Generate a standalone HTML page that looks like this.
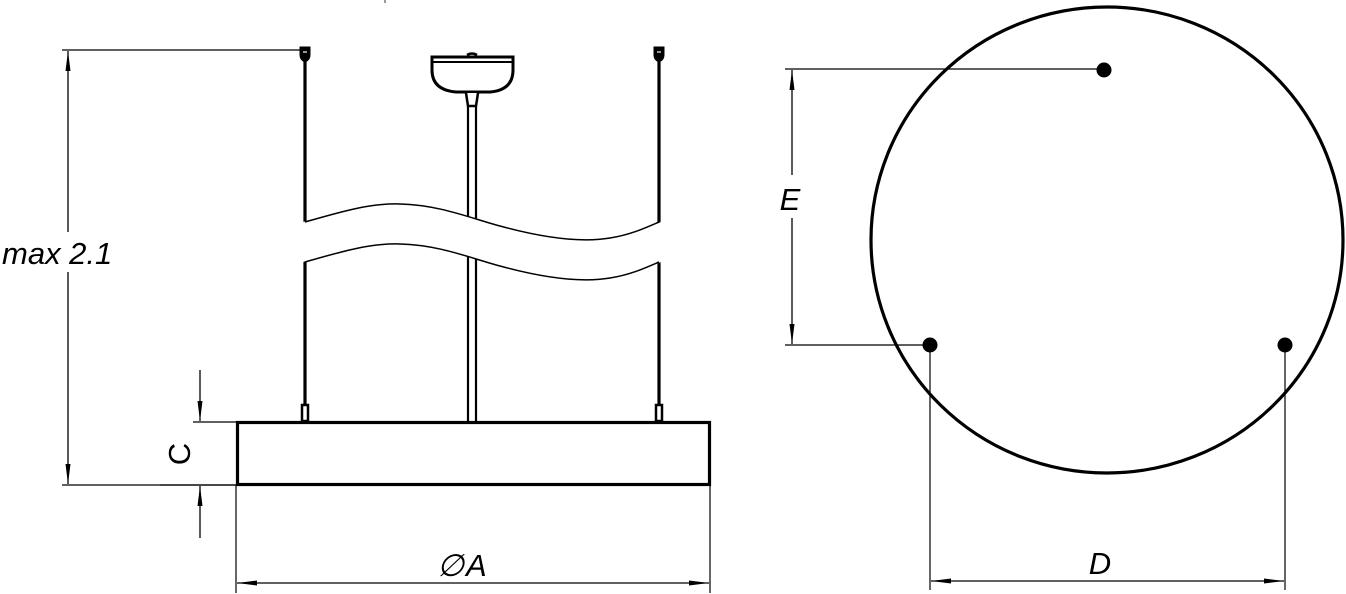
<!DOCTYPE html>
<html><head><meta charset="utf-8"><style>
html,body{margin:0;padding:0;background:#fff;}
svg{display:block;}
text{font-family:"Liberation Sans",sans-serif;font-style:italic;fill:#000;}
</style></head><body>
<svg width="1346" height="594" viewBox="0 0 1346 594" xmlns="http://www.w3.org/2000/svg">
<defs>
<marker id="ar" viewBox="0 0 20 8" refX="20" refY="4" markerWidth="20" markerHeight="8" markerUnits="userSpaceOnUse" orient="auto">
<path d="M0,1.5 L20,4 L0,6.5 Z" fill="#000"/>
</marker>
</defs>
<g stroke="#000" fill="none">
<line x1="62" y1="50" x2="302" y2="50" stroke-width="1.2"/>
<line x1="62" y1="485" x2="236" y2="485" stroke-width="1.2"/>
<line x1="68" y1="232" x2="68" y2="51" stroke-width="1.3" marker-end="url(#ar)"/>
<line x1="68" y1="272" x2="68" y2="484" stroke-width="1.3" marker-end="url(#ar)"/>

<path d="M300,47 h10 v8 q0,5 -5,7 q-5,-2 -5,-7 Z" fill="#000" stroke-width="1"/>
<path d="M654,47 h10 v8 q0,5 -5,7 q-5,-2 -5,-7 Z" fill="#000" stroke-width="1"/>
<line x1="303" y1="52" x2="307" y2="52" stroke="#fff" stroke-width="1.2"/>
<line x1="657" y1="52" x2="661" y2="52" stroke="#fff" stroke-width="1.2"/>
<line x1="305" y1="60" x2="305" y2="405" stroke-width="3.2"/>
<line x1="659" y1="60" x2="659" y2="405" stroke-width="3.2"/>
<rect x="302" y="405" width="6" height="16" fill="#fff" stroke-width="2.5"/>
<rect x="656" y="405" width="6" height="16" fill="#fff" stroke-width="2.5"/>

<path d="M432,57 H513 V70 Q513,90 490,92 H456 Q432,90 432,70 Z" stroke-width="3" fill="#fff"/>
<line x1="432" y1="62" x2="513" y2="62" stroke-width="2"/>
<path d="M467,55 Q472,52 477,55" stroke-width="2.5"/>
<path d="M466,93 L468,106 H476 L478,93" stroke-width="2.5" fill="#fff"/>
<line x1="468" y1="106" x2="468" y2="421" stroke-width="2.2"/>
<line x1="476" y1="106" x2="476" y2="421" stroke-width="2.2"/>

<!-- gap fill -->
<path d="M303,222 C340,212 370,203 400,204 C440,205 470,218 500,226 C540,237 580,243 610,238 C630,235 645,228 661,222 L661,262 C645,268 630,275 610,278 C580,283 540,277 500,266 C470,258 440,245 400,244 C370,243 340,252 303,262 Z" fill="#fff" stroke="none"/>
<path d="M305,222 C340,212 370,203 400,204 C440,205 470,218 500,226 C540,237 580,243 610,238 C630,235 645,228 659,222" stroke-width="1.5"/>
<path d="M305,262 C340,252 370,243 400,244 C440,245 470,258 500,266 C540,277 580,283 610,278 C630,275 645,268 659,262" stroke-width="1.5"/>

<rect x="237.5" y="422.5" width="472" height="62" stroke-width="3.2" fill="#fff"/>

<line x1="193" y1="422" x2="236" y2="422" stroke-width="1.2"/>
<line x1="160" y1="485" x2="236" y2="485" stroke-width="1.2"/>
<line x1="200" y1="370" x2="200" y2="421" stroke-width="1.3" marker-end="url(#ar)"/>
<line x1="200" y1="538" x2="200" y2="486" stroke-width="1.3" marker-end="url(#ar)"/>

<line x1="236" y1="485" x2="236" y2="593" stroke-width="1.2"/>
<line x1="710" y1="485" x2="710" y2="593" stroke-width="1.2"/>
<line x1="473" y1="583" x2="237" y2="583" stroke-width="1.3" marker-end="url(#ar)"/>
<line x1="473" y1="583" x2="709" y2="583" stroke-width="1.3" marker-end="url(#ar)"/>

<ellipse cx="1107" cy="240" rx="236" ry="233" stroke-width="3.2"/>

<line x1="785" y1="69" x2="1104" y2="69" stroke-width="1.2"/>
<line x1="785" y1="345" x2="930" y2="345" stroke-width="1.2"/>
<line x1="792" y1="175" x2="792" y2="70" stroke-width="1.3" marker-end="url(#ar)"/>
<line x1="792" y1="218" x2="792" y2="344" stroke-width="1.3" marker-end="url(#ar)"/>

<line x1="930" y1="345" x2="930" y2="590" stroke-width="1.2"/>
<line x1="1285" y1="345" x2="1285" y2="590" stroke-width="1.2"/>
<line x1="1107" y1="581" x2="931" y2="581" stroke-width="1.3" marker-end="url(#ar)"/>
<line x1="1107" y1="581" x2="1284" y2="581" stroke-width="1.3" marker-end="url(#ar)"/>
<line x1="385" y1="0" x2="385" y2="3" stroke-width="0.8"/>
</g>
<circle cx="1104" cy="70" r="7.5" fill="#000"/>
<circle cx="930" cy="345" r="7.5" fill="#000"/>
<circle cx="1285" cy="345" r="7.5" fill="#000"/>

<text x="2" y="264" font-size="31">max 2.1</text>
<text x="0" y="0" font-size="31" transform="translate(190,454) rotate(-90)" text-anchor="middle" style="font-style:normal">C</text>
<text x="437" y="576" font-size="31">∅</text>
<text x="466" y="576" font-size="31">A</text>
<text x="790" y="210" font-size="31" text-anchor="middle">E</text>
<text x="1100" y="574" font-size="31" text-anchor="middle">D</text>
</svg>
</body></html>
